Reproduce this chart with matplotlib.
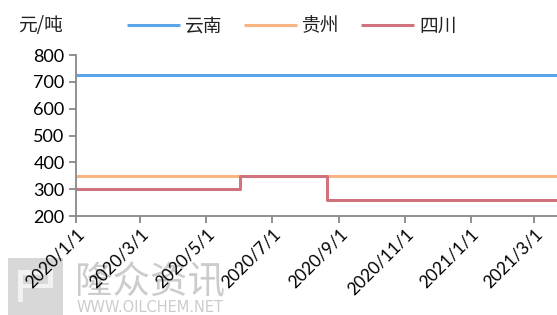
import matplotlib
matplotlib.use("Agg")
import matplotlib.pyplot as plt
from matplotlib.patches import Rectangle
import pandas as pd

plt.rcParams['font.family'] = ['Lato', 'Noto Sans CJK SC', 'DejaVu Sans']

series_names = ["云南", "贵州", "四川"]
yunnan_dates = ["2020-01-01", "2021-03-22"]
yunnan_vals = [725, 725]
guizhou_dates = ["2020-01-01", "2021-03-22"]
guizhou_vals = [350, 350]
sichuan_dates = ["2020-01-01", "2020-06-01", "2020-08-21", "2021-03-22"]
sichuan_vals = [300, 350, 260, 260]
colors = ["#5AA5EA", "#F9B482", "#D0737C"]
tick_dates = ["2020-01-01", "2020-03-01", "2020-05-01", "2020-07-01", "2020-09-01",
              "2020-11-01", "2021-01-01", "2021-03-01"]
tick_labels = ["2020/1/1", "2020/3/1", "2020/5/1", "2020/7/1", "2020/9/1",
               "2020/11/1", "2021/1/1", "2021/3/1"]

W, H = 557, 315
fig = plt.figure(figsize=(W / 100, H / 100), dpi=100)

# watermark (drawn behind axes)
def px_rect(x0, y0, x1, y1, color):
    fig.patches.append(Rectangle((x0 / W, 1 - y1 / H), (x1 - x0) / W, (y1 - y0) / H,
                                 transform=fig.transFigure, facecolor=color,
                                 edgecolor="none", zorder=-2))

px_rect(8, 258, 63, 315, "#D8D8D8")
px_rect(18, 270, 53, 275, "#F2F2F2")
px_rect(18, 270, 23, 302, "#F2F2F2")
px_rect(18, 284, 53, 288, "#F2F2F2")
px_rect(48, 270, 53, 288, "#F2F2F2")
fig.text(75 / W, 1 - 283 / H, "隆众资讯", fontsize=27, color="#CCCCCC",
         va="center", ha="left", family=["Noto Sans CJK SC", "DejaVu Sans"], zorder=-1)
fig.text(77 / W, 1 - 308 / H, "WWW.OILCHEM.NET", fontsize=10.5, color="#CCCCCC",
         va="center", ha="left", family=["DejaVu Sans"], zorder=-1)

ax = fig.add_axes([0.136, 0.314, 0.864, 0.511])
ax.set_zorder(2)
ax.patch.set_alpha(0)

series = [(yunnan_dates, yunnan_vals), (guizhou_dates, guizhou_vals), (sichuan_dates, sichuan_vals)]
for (d, v), name, c in zip(series, series_names, colors):
    ax.plot(pd.to_datetime(d), v, drawstyle="steps-post", color=c, lw=2.2,
            label=name, solid_capstyle="butt")

ax.set_ylim(200, 800)
ax.set_yticks(range(200, 801, 100))
ax.set_xlim(pd.Timestamp("2020-01-01"), pd.Timestamp("2021-03-22"))
ax.set_xticks(pd.to_datetime(tick_dates))
ax.set_xticklabels(tick_labels, rotation=45, ha="right", rotation_mode="anchor",
                   fontsize=12.5, color="#000000")
ax.tick_params(axis="y", labelsize=13, direction="out", length=5, width=1.3, color="#888888", pad=3)
ax.tick_params(axis="x", direction="out", length=5, width=1.3, color="#888888", pad=2)
for s in ["top", "right"]:
    ax.spines[s].set_visible(False)
for s in ["left", "bottom"]:
    ax.spines[s].set_color("#888888")
    ax.spines[s].set_linewidth(1.3)

fig.text(18 / W, 1 - 26 / H, "元/吨", fontsize=13.5, va="center", ha="left",
         family=["Noto Sans CJK SC", "DejaVu Sans"], color="#222222")

leg = fig.legend(loc="center left", bbox_to_anchor=(127 / W, 1 - 26 / H), ncol=3,
                 frameon=False, handlelength=2.8, handletextpad=0.3, columnspacing=1.15,
                 prop={"family": ["Noto Sans CJK SC", "DejaVu Sans"], "size": 13.5},
                 borderaxespad=0, borderpad=0)
for t in leg.get_texts():
    t.set_color("#222222")

fig.savefig("out.png", dpi=100)
